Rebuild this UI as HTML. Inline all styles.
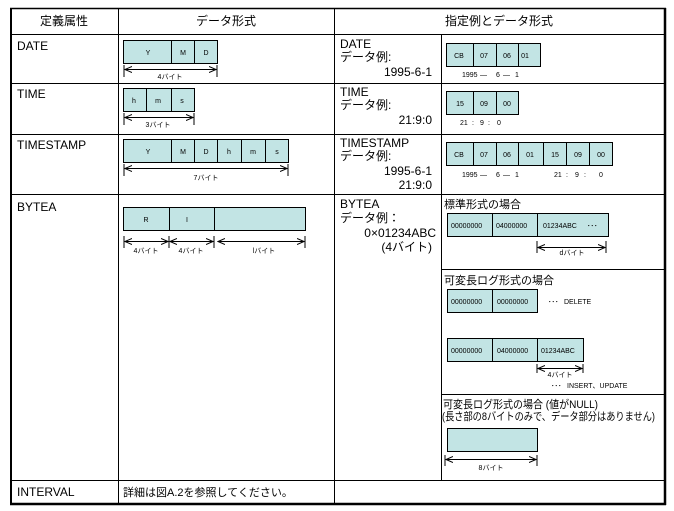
<!DOCTYPE html>
<html><head><meta charset="utf-8"><style>
html,body{margin:0;padding:0;background:#fff;width:674px;height:511px;overflow:hidden}
svg{display:block}
text{font-family:"Liberation Sans","Noto Sans CJK JP",sans-serif;fill:#000}
.b{fill:#c2e4e4;stroke:#000;stroke-width:1}
.s{font-size:7px}
.m{font-size:11px}
.h{font-size:12px}
</style></head><body>
<svg width="674" height="511" viewBox="0 0 674 511" xmlns="http://www.w3.org/2000/svg">
<defs>
<marker id="a" markerWidth="8" markerHeight="8" refX="7" refY="4" orient="auto-start-reverse" markerUnits="userSpaceOnUse"><path d="M0,1 L7,4 L0,7" fill="none" stroke="#000" stroke-width="1"/></marker>
</defs>
<rect x="11" y="8.5" width="654" height="495" fill="none" stroke="#000" stroke-width="1"/>
<line x1="11" y1="8" x2="11" y2="505" stroke="#000" stroke-width="2"/>
<line x1="665" y1="8" x2="665" y2="505" stroke="#000" stroke-width="2.5"/>
<line x1="10" y1="504" x2="666" y2="504" stroke="#000" stroke-width="2.5"/>
<line x1="10" y1="8.5" x2="666" y2="8.5" stroke="#000" stroke-width="1.5"/>
<g stroke="#000" stroke-width="1">
<line x1="118.5" y1="8" x2="118.5" y2="504"/>
<line x1="334.5" y1="8" x2="334.5" y2="504"/>
<line x1="441.5" y1="34" x2="441.5" y2="480"/>
<line x1="11" y1="34.5" x2="665" y2="34.5"/>
<line x1="11" y1="83.5" x2="665" y2="83.5"/>
<line x1="11" y1="134.5" x2="665" y2="134.5"/>
<line x1="11" y1="194.5" x2="665" y2="194.5"/>
<line x1="441" y1="269.5" x2="665" y2="269.5"/>
<line x1="441" y1="394.5" x2="665" y2="394.5"/>
<line x1="11" y1="480.5" x2="665" y2="480.5"/>
</g>
<text x="64" y="25" class="h" text-anchor="middle">定義属性</text>
<text x="226" y="25" class="h" text-anchor="middle">データ形式</text>
<text x="499" y="25" class="h" text-anchor="middle">指定例とデータ形式</text>
<text x="17" y="50" class="h">DATE</text>
<text x="17" y="98" class="h">TIME</text>
<text x="17" y="149" class="h">TIMESTAMP</text>
<text x="17" y="211" class="h">BYTEA</text>
<text x="17" y="496" class="h">INTERVAL</text>
<text x="123" y="496" class="m">詳細は図A.2を参照してください。</text>
<g>
<rect class="b" x="123.5" y="40.5" width="94" height="23"/>
<line x1="171.5" y1="40" x2="171.5" y2="64" stroke="#000"/><line x1="194.5" y1="40" x2="194.5" y2="64" stroke="#000"/>
<text x="148" y="55" class="s" text-anchor="middle">Y</text><text x="183" y="55" class="s" text-anchor="middle">M</text><text x="206" y="55" class="s" text-anchor="middle">D</text>
<line x1="124" y1="65" x2="124" y2="77" stroke="#000"/><line x1="217" y1="65" x2="217" y2="77" stroke="#000"/>
<line x1="125" y1="69.5" x2="216" y2="69.5" stroke="#000" marker-start="url(#a)" marker-end="url(#a)"/>
<text x="170" y="79" class="s" text-anchor="middle">4バイト</text>

<rect class="b" x="123.5" y="88.5" width="71" height="23"/>
<line x1="146.5" y1="88" x2="146.5" y2="112" stroke="#000"/><line x1="171.5" y1="88" x2="171.5" y2="112" stroke="#000"/>
<text x="134" y="103" class="s" text-anchor="middle">h</text><text x="158" y="103" class="s" text-anchor="middle">m</text><text x="182" y="103" class="s" text-anchor="middle">s</text>
<line x1="124" y1="113" x2="124" y2="125" stroke="#000"/><line x1="194" y1="113" x2="194" y2="125" stroke="#000"/>
<line x1="125" y1="117.5" x2="193" y2="117.5" stroke="#000" marker-start="url(#a)" marker-end="url(#a)"/>
<text x="158" y="127" class="s" text-anchor="middle">3バイト</text>

<rect class="b" x="123.5" y="139.5" width="165" height="23"/>
<g stroke="#000"><line x1="171.5" y1="139" x2="171.5" y2="163"/><line x1="194.5" y1="139" x2="194.5" y2="163"/><line x1="217.5" y1="139" x2="217.5" y2="163"/><line x1="241.5" y1="139" x2="241.5" y2="163"/><line x1="265.5" y1="139" x2="265.5" y2="163"/></g>
<text x="148" y="154" class="s" text-anchor="middle">Y</text><text x="183" y="154" class="s" text-anchor="middle">M</text><text x="206" y="154" class="s" text-anchor="middle">D</text><text x="229" y="154" class="s" text-anchor="middle">h</text><text x="253" y="154" class="s" text-anchor="middle">m</text><text x="277" y="154" class="s" text-anchor="middle">s</text>
<line x1="124" y1="164" x2="124" y2="176" stroke="#000"/><line x1="288" y1="164" x2="288" y2="176" stroke="#000"/>
<line x1="125" y1="168.5" x2="287" y2="168.5" stroke="#000" marker-start="url(#a)" marker-end="url(#a)"/>
<text x="206" y="180" class="s" text-anchor="middle">7バイト</text>

<rect class="b" x="123.5" y="207.5" width="182" height="23"/>
<line x1="169.5" y1="207" x2="169.5" y2="231" stroke="#000"/><line x1="214.5" y1="207" x2="214.5" y2="231" stroke="#000"/>
<text x="146" y="222" class="s" text-anchor="middle">R</text><text x="187" y="222" class="s" text-anchor="middle">I</text>
<g stroke="#000"><line x1="124" y1="236" x2="124" y2="248"/><line x1="169" y1="236" x2="169" y2="248"/><line x1="214" y1="236" x2="214" y2="248"/><line x1="305" y1="236" x2="305" y2="248"/></g>
<line x1="125" y1="241.5" x2="168" y2="241.5" stroke="#000" marker-start="url(#a)" marker-end="url(#a)"/>
<line x1="170" y1="241.5" x2="213" y2="241.5" stroke="#000" marker-start="url(#a)" marker-end="url(#a)"/>
<line x1="218" y1="241.5" x2="304" y2="241.5" stroke="#000" marker-start="url(#a)" marker-end="url(#a)"/>
<text x="146" y="253" class="s" text-anchor="middle">4バイト</text><text x="191" y="253" class="s" text-anchor="middle">4バイト</text><text x="264" y="253" class="s" text-anchor="middle">lバイト</text>
</g>
<text x="340" y="48" class="h">DATE</text>
<text x="340" y="61" class="h">データ例:</text>
<text x="432" y="76" class="h" text-anchor="end">1995-6-1</text>
<text x="340" y="96" class="h">TIME</text>
<text x="340" y="109" class="h">データ例:</text>
<text x="432" y="124" class="h" text-anchor="end">21:9:0</text>
<text x="340" y="147" class="h">TIMESTAMP</text>
<text x="340" y="160" class="h">データ例:</text>
<text x="432" y="175" class="h" text-anchor="end">1995-6-1</text>
<text x="432" y="189" class="h" text-anchor="end">21:9:0</text>
<text x="340" y="208" class="h">BYTEA</text>
<text x="340" y="222" class="h">データ例：</text>
<text x="436" y="237" class="h" text-anchor="end">0×01234ABC</text>
<text x="432" y="251" class="h" text-anchor="end">(4バイト)</text>

<rect class="b" x="446.5" y="43.5" width="94" height="23"/>
<g stroke="#000"><line x1="473.5" y1="43" x2="473.5" y2="67"/><line x1="496.5" y1="43" x2="496.5" y2="67"/><line x1="518.5" y1="43" x2="518.5" y2="67"/></g>
<text x="459" y="58" class="s" text-anchor="middle">CB</text><text x="484" y="58" class="s" text-anchor="middle">07</text><text x="507" y="58" class="s" text-anchor="middle">06</text><text x="525" y="58" class="s" text-anchor="middle">01</text>
<text x="462" y="77" class="s">1995</text><text x="480" y="77" class="s">—</text><text x="496" y="77" class="s">6</text><text x="503" y="77" class="s">—</text><text x="515" y="77" class="s">1</text>

<rect class="b" x="446.5" y="91.5" width="72" height="23"/>
<g stroke="#000"><line x1="473.5" y1="91" x2="473.5" y2="115"/><line x1="496.5" y1="91" x2="496.5" y2="115"/></g>
<text x="460" y="106" class="s" text-anchor="middle">15</text><text x="484" y="106" class="s" text-anchor="middle">09</text><text x="507" y="106" class="s" text-anchor="middle">00</text>
<text x="460" y="125" class="s">21</text><text x="472" y="125" class="s">:</text><text x="480" y="125" class="s">9</text><text x="488" y="125" class="s">:</text><text x="497" y="125" class="s">0</text>

<rect class="b" x="446.5" y="142.5" width="166" height="23"/>
<g stroke="#000"><line x1="473.5" y1="142" x2="473.5" y2="166"/><line x1="496.5" y1="142" x2="496.5" y2="166"/><line x1="518.5" y1="142" x2="518.5" y2="166"/><line x1="543.5" y1="142" x2="543.5" y2="166"/><line x1="566.5" y1="142" x2="566.5" y2="166"/><line x1="589.5" y1="142" x2="589.5" y2="166"/></g>
<text x="459" y="157" class="s" text-anchor="middle">CB</text><text x="484" y="157" class="s" text-anchor="middle">07</text><text x="507" y="157" class="s" text-anchor="middle">06</text><text x="530" y="157" class="s" text-anchor="middle">01</text><text x="555" y="157" class="s" text-anchor="middle">15</text><text x="578" y="157" class="s" text-anchor="middle">09</text><text x="601" y="157" class="s" text-anchor="middle">00</text>
<text x="462" y="177" class="s">1995</text><text x="480" y="177" class="s">—</text><text x="496" y="177" class="s">6</text><text x="503" y="177" class="s">—</text><text x="515" y="177" class="s">1</text>
<text x="554" y="177" class="s">21</text><text x="566" y="177" class="s">:</text><text x="575" y="177" class="s">9</text><text x="584" y="177" class="s">:</text><text x="599" y="177" class="s">0</text>

<text x="444" y="208" class="m">標準形式の場合</text>
<rect class="b" x="447.5" y="213.5" width="161" height="23"/>
<g stroke="#000"><line x1="492.5" y1="213" x2="492.5" y2="237"/><line x1="537.5" y1="213" x2="537.5" y2="237"/></g>
<text x="451" y="228" class="s">00000000</text><text x="496" y="228" class="s">04000000</text><text x="543" y="228" class="s">01234ABC</text><text x="587" y="228" class="s">･･･</text>
<line x1="537" y1="241" x2="537" y2="253" stroke="#000"/><line x1="606" y1="241" x2="606" y2="253" stroke="#000"/>
<line x1="538" y1="247.5" x2="605" y2="247.5" stroke="#000" marker-start="url(#a)" marker-end="url(#a)"/>
<text x="572" y="255" class="s" text-anchor="middle">dバイト</text>

<text x="444" y="284" class="m">可変長ログ形式の場合</text>
<rect class="b" x="447.5" y="289.5" width="90" height="23"/>
<line x1="492.5" y1="289" x2="492.5" y2="313" stroke="#000"/>
<text x="451" y="304" class="s">00000000</text><text x="497" y="304" class="s">00000000</text>
<text x="548" y="304" class="s">･･･</text><text x="564" y="304" class="s">DELETE</text>

<rect class="b" x="447.5" y="338.5" width="136" height="23"/>
<g stroke="#000"><line x1="492.5" y1="338" x2="492.5" y2="362"/><line x1="537.5" y1="338" x2="537.5" y2="362"/></g>
<text x="451" y="353" class="s">00000000</text><text x="497" y="353" class="s">04000000</text><text x="541" y="353" class="s">01234ABC</text>
<line x1="537" y1="364" x2="537" y2="373" stroke="#000"/><line x1="583" y1="364" x2="583" y2="373" stroke="#000"/>
<line x1="538" y1="368.5" x2="582" y2="368.5" stroke="#000" marker-start="url(#a)" marker-end="url(#a)"/>
<text x="560" y="377" class="s" text-anchor="middle">4バイト</text>
<text x="551" y="388" class="s">･･･</text><text x="567" y="388" class="s">INSERT、UPDATE</text>

<text x="443" y="408" class="m" textLength="155" lengthAdjust="spacingAndGlyphs">可変長ログ形式の場合 (値がNULL)</text>
<text x="442" y="420" class="m" textLength="213" lengthAdjust="spacingAndGlyphs">(長さ部の8バイトのみで、データ部分はありません)</text>
<rect class="b" x="447.5" y="428.5" width="90" height="23"/>
<line x1="445" y1="455" x2="445" y2="466" stroke="#000"/><line x1="537" y1="455" x2="537" y2="466" stroke="#000"/>
<line x1="446" y1="459.5" x2="536" y2="459.5" stroke="#000" marker-start="url(#a)" marker-end="url(#a)"/>
<text x="491" y="470" class="s" text-anchor="middle">8バイト</text>
</svg>
</body></html>
